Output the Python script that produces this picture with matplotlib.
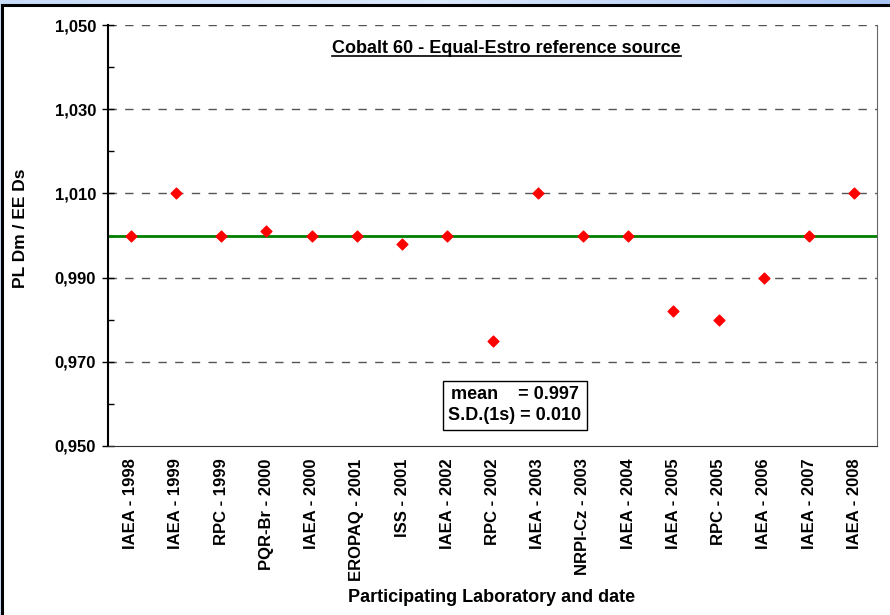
import matplotlib.pyplot as plt
from matplotlib.patches import Rectangle
from matplotlib.ticker import FixedLocator, FuncFormatter
import numpy as np

plt.rcParams['font.family'] = ['Liberation Sans', 'DejaVu Sans']
plt.rcParams['font.weight'] = 'bold'

labels = ['IAEA - 1998', 'IAEA - 1999', 'RPC - 1999', 'PQR-Br - 2000', 'IAEA - 2000',
          'EROPAQ - 2001', 'ISS - 2001', 'IAEA - 2002', 'RPC - 2002', 'IAEA - 2003',
          'NRPI-Cz - 2003', 'IAEA - 2004', 'IAEA - 2005', 'RPC - 2005', 'IAEA - 2006',
          'IAEA - 2007', 'IAEA - 2008']
ratios = [1.000, 1.010, 1.000, 1.001, 1.000, 1.000, 0.998, 1.000, 0.975, 1.010,
          1.000, 1.000, 0.982, 0.980, 0.990, 1.000, 1.010]
ref_value = 1.000
major_y = [0.950, 0.970, 0.990, 1.010, 1.030, 1.050]
minor_y = [0.960, 0.980, 1.000, 1.020, 1.040]
mean_txt = 'mean    = 0.997'
sd_txt = 'S.D.(1s) = 0.010'

W, H = 890, 615
fig = plt.figure(figsize=(W / 100, H / 100), dpi=100)

# light blue band on top, then black frame
grad = np.linspace(0, 1, 256).reshape(1, -1)
bg = fig.add_axes([0, 0, 1, 1], zorder=-10)
bg.imshow(np.vstack([grad, grad]), aspect='auto', extent=[0, 1, 0, 1],
          cmap=plt.matplotlib.colors.LinearSegmentedColormap.from_list('b', ['#c8dcf8', '#dce8fc', '#a8c4f4']))
bg.set_axis_off()
fig.patches.append(Rectangle((2 / W, -0.05), 1.1, 1 - 5 / H + 0.05, transform=fig.transFigure,
                             facecolor='white', edgecolor='black', lw=2.2, zorder=-5))

ax = fig.add_axes([108 / W, 1 - 446 / H, (877 - 108) / W, (446 - 25) / H])
x = np.arange(len(labels))
ax.axhline(ref_value, color='#008000', lw=2, zorder=2)
ax.scatter(x, ratios, marker='D', s=30, color='red', zorder=3)

ax.set_xlim(-0.5, len(labels) - 0.5)
ax.set_ylim(0.950, 1.050)
ax.yaxis.set_major_locator(FixedLocator(major_y))
ax.yaxis.set_minor_locator(FixedLocator(minor_y))
ax.yaxis.set_major_formatter(FuncFormatter(lambda v, p: ('%.3f' % v).replace('.', ',')))
ax.tick_params(axis='y', which='major', direction='inout', length=9, width=1, labelsize=12, pad=4)
ax.tick_params(axis='y', which='minor', direction='in', length=4, width=1)
ax.set_xticks(x)
ax.set_xticklabels(labels, rotation=90, fontsize=12, fontweight='bold')
ax.tick_params(axis='x', length=0, pad=9)
for t in ax.get_yticklabels():
    t.set_fontweight('bold')

for v in major_y[1:]:
    ax.axhline(v, color='#555555', lw=1, dashes=(6, 6), zorder=1)

ax.spines['left'].set_color('black')
ax.spines['left'].set_linewidth(1.5)
ax.spines['bottom'].set_color('#333333')
ax.spines['top'].set_visible(False)
ax.spines['right'].set_color('#666666')
ax.spines['right'].set_linewidth(0.8)

fig.text(21 / W, 1 - 228 / H, 'PL Dm / EE Ds', rotation=90, ha='center', va='center',
         fontsize=12.5, fontweight='bold')
fig.text(492 / W, 1 - 598 / H, 'Participating Laboratory and date', ha='center', va='center',
         fontsize=13, fontweight='bold')

title = ax.text(0.518, 0.945, 'Cobalt 60 - Equal-Estro reference source', transform=ax.transAxes,
                ha='center', va='center', fontsize=13, fontweight='bold')
fig.canvas.draw()
bb = title.get_window_extent().transformed(fig.transFigure.inverted())
fig.add_artist(plt.Line2D([bb.x0, bb.x1], [bb.y0 + 0.001, bb.y0 + 0.001],
                          transform=fig.transFigure, color='black', lw=1.2))

ax.text(0.529, 0.097, mean_txt + '\n' + sd_txt, transform=ax.transAxes, ha='center', va='center',
        fontsize=13, fontweight='bold', linespacing=1.3,
        bbox=dict(boxstyle='square,pad=0.3', facecolor='white', edgecolor='black', lw=1))

fig.savefig('out.png', dpi=100)
